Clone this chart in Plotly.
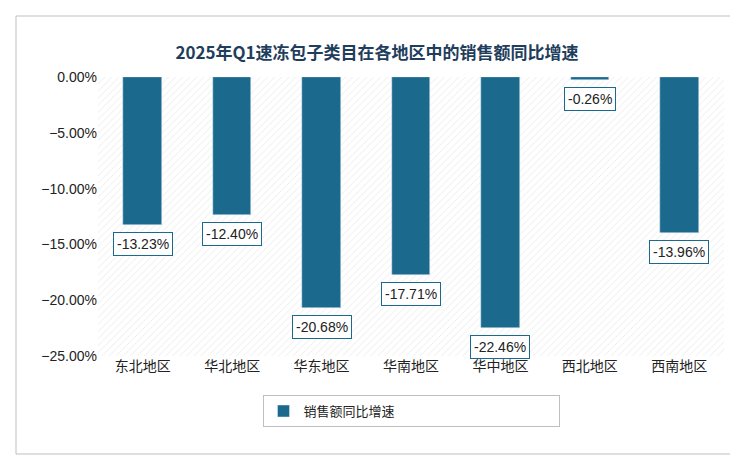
import plotly.graph_objects as go

categories = ["东北地区", "华北地区", "华东地区", "华南地区", "华中地区", "西北地区", "西南地区"]
values = [-13.23, -12.40, -20.68, -17.71, -22.46, -0.26, -13.96]
series_name = "销售额同比增速"
title = "<b>2025年Q1速冻包子类目在各地区中的销售额同比增速</b>"

fig = go.Figure()
fig.add_trace(go.Bar(x=categories, y=[-0.25] * len(categories), width=1,
                     marker=dict(color="white", line_width=0,
                                 pattern=dict(shape="/", fgcolor="#d0d0d0", size=5, solidity=0.15)),
                     showlegend=False, hoverinfo="skip"))
fig.add_trace(go.Bar(x=categories, y=[v / 100 for v in values], name=series_name,
                     marker_color="#1b6a8e", width=0.43))
for c, v in zip(categories, values):
    fig.add_annotation(x=c, y=v / 100, text=f"{v:.2f}%", showarrow=False, yshift=-19,
                       bgcolor="white", bordercolor="#1b6a8e", borderwidth=1, borderpad=3,
                       font=dict(size=14, color="#222", family="Liberation Sans"))

T, B = 69, 110
H = 458 - T - B
fig.update_layout(
    width=738, height=458, barmode="overlay", paper_bgcolor="white", plot_bgcolor="white",
    margin=dict(l=90, r=22, t=T, b=B),
    title=dict(text=title, x=0.5, xanchor="center", y=0.915,
               font=dict(size=17, color="#1f3d5c", family="Noto Sans CJK SC")),
    font=dict(family="Noto Sans CJK SC", size=14, color="#222"),
    yaxis=dict(range=[-0.25, 0], dtick=0.05, tickformat=".2%", showgrid=False,
               zeroline=True, zerolinecolor="#a6a6a6", zerolinewidth=1,
               tickfont=dict(family="Liberation Sans", size=14)),
    xaxis=dict(showline=False, tickfont=dict(size=14)),
    legend=dict(orientation="h", x=0.5, xanchor="center", y=-0.14, yanchor="top",
                bordercolor="#bfbfbf", borderwidth=1, font=dict(size=13), entrywidth=250),
    bargap=0,
)
fig.add_shape(type="rect", xref="paper", yref="paper",
              x0=(8 - 90) / 626, x1=(728 - 90) / 626,
              y0=-(446 - (458 - B)) / H, y1=((458 - B) - 8) / H,
              line=dict(color="#bfbfbf", width=1))
fig.write_html("out.html")
